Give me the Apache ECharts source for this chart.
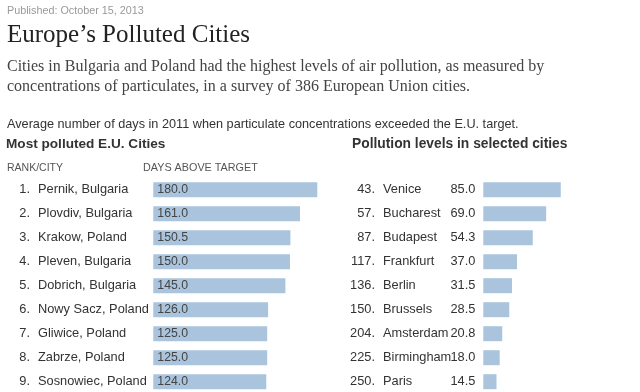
<!DOCTYPE html>
<html><head><meta charset="utf-8">
<script src="https://cdn.jsdelivr.net/npm/echarts@6/dist/echarts.min.js"></script>
<style>html,body{margin:0;padding:0;background:#fff}#c{width:640px;height:392px}</style>
</head><body><div id="c"></div>
<script>
// ---- data ----
const leftRanks = [1, 2, 3, 4, 5, 6, 7, 8, 9];
const leftCities = ['Pernik, Bulgaria', 'Plovdiv, Bulgaria', 'Krakow, Poland', 'Pleven, Bulgaria', 'Dobrich, Bulgaria', 'Nowy Sacz, Poland', 'Gliwice, Poland', 'Zabrze, Poland', 'Sosnowiec, Poland'];
const leftDays = [180.0, 161.0, 150.5, 150.0, 145.0, 126.0, 125.0, 125.0, 124.0];
const rightRanks = [43, 57, 87, 117, 136, 150, 204, 225, 250];
const rightCities = ['Venice', 'Bucharest', 'Budapest', 'Frankfurt', 'Berlin', 'Brussels', 'Amsterdam', 'Birmingham', 'Paris'];
const rightDays = [85.0, 69.0, 54.3, 37.0, 31.5, 28.5, 20.8, 18.0, 14.5];

const SANS = "'Liberation Sans', Arial, sans-serif";
const SERIF = "'Liberation Serif', 'Times New Roman', serif";
const BAR = '#a9c4dc';
const TXT = '#333';
const LBL = 12.8;

function txt(x, y, text, size, color, family, weight) {
  return { type: 'text', x: x, y: y, silent: true,
    style: { text: text, fontSize: size, fontFamily: family || SANS, fontWeight: weight || 'normal',
      fill: color, align: 'left', verticalAlign: 'middle', textAlign: 'left', textVerticalAlign: 'middle' } };
}

function catAxis(grid, data, align, margin, fmt) {
  return { gridIndex: grid, type: 'category', data: data, inverse: true, position: 'left', offset: 0,
    axisLine: { show: false }, axisTick: { show: false }, splitLine: { show: false },
    axisLabel: { interval: 0, align: align, margin: margin, fontSize: LBL, fontFamily: SANS, color: TXT,
      padding: [2, 0, 0, 0], formatter: fmt } };
}

const chart = echarts.init(document.getElementById('c'), null, { renderer: 'canvas' });
chart.setOption({
  animation: false,
  backgroundColor: '#fff',
  graphic: [
    txt(7, 11, 'Published: October 15, 2013', 10.8, '#999'),
    txt(7, 35, 'Europe\u2019s Polluted Cities', 25, '#222', SERIF),
    txt(7, 66.5, 'Cities in Bulgaria and Poland had the highest levels of air pollution, as measured by', 16, '#444', SERIF),
    txt(7, 86.5, 'concentrations of particulates, in a survey of 386 European Union cities.', 16, '#444', SERIF),
    txt(7, 124, 'Average number of days in 2011 when particulate concentrations exceeded the E.U. target.', 12.7, TXT),
    txt(6, 144.5, 'Most polluted E.U. Cities', 13.6, TXT, SANS, 'bold'),
    txt(352, 144.5, 'Pollution levels in selected cities', 13.8, TXT, SANS, 'bold'),
    txt(7, 168.5, 'RANK/CITY', 10.5, '#555'),
    txt(143, 168.5, 'DAYS ABOVE TARGET', 10.8, '#555')
  ],
  grid: [
    { left: 153.3, top: 177.7, width: 164, height: 216, outerBoundsMode: 'none', containLabel: false },
    { left: 483.3, top: 177.7, width: 91.11, height: 216, outerBoundsMode: 'none', containLabel: false }
  ],
  xAxis: [
    { gridIndex: 0, type: 'value', min: 0, max: 180, show: false },
    { gridIndex: 1, type: 'value', min: 0, max: 100, show: false }
  ],
  yAxis: [
    catAxis(0, leftCities, 'left', 115.3),
    catAxis(0, leftRanks.map(String), 'right', 123.3, function (v) { return v + '.'; }),
    catAxis(1, rightCities, 'left', 100.3),
    catAxis(1, rightRanks.map(String), 'right', 108.3, function (v) { return v + '.'; })
  ],
  series: [
    { type: 'bar', xAxisIndex: 0, yAxisIndex: 0, data: leftDays, barWidth: 15, silent: true,
      itemStyle: { color: BAR },
      label: { show: true, position: 'insideLeft', distance: 4, fontSize: 12.3, fontFamily: SANS, color: '#444',
        padding: [2, 0, 0, 0],
        formatter: function (p) { return p.value.toFixed(1); } } },
    { type: 'bar', xAxisIndex: 1, yAxisIndex: 2, data: rightDays, barWidth: 15, silent: true,
      itemStyle: { color: BAR },
      label: { show: true, position: 'left', distance: 8, fontSize: LBL, fontFamily: SANS, color: TXT,
        padding: [2, 0, 0, 0],
        formatter: function (p) { return p.value.toFixed(1); } } }
  ]
});
</script>
</body></html>
